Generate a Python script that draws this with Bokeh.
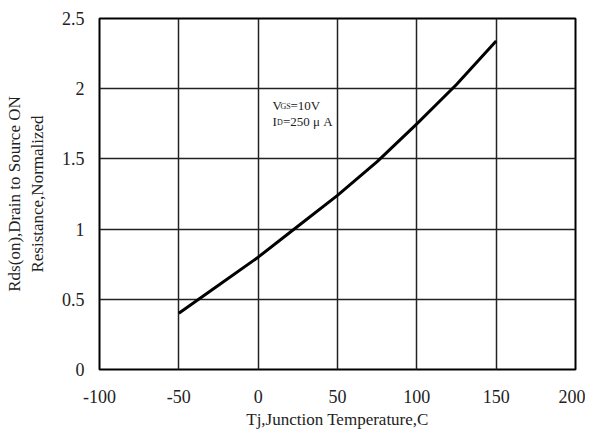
from bokeh.plotting import figure
from bokeh.models import FixedTicker, Label
from bokeh.embed import file_html
from bokeh.resources import INLINE

# Data
tj = [-50, -25, 0, 25, 50, 75, 100, 125, 150]
rds = [0.40, 0.60, 0.80, 1.02, 1.24, 1.48, 1.75, 2.03, 2.34]

x_ticks = [-100, -50, 0, 50, 100, 150, 200]
x_tick_labels = ["-100", "-50", "0", "50", "100", "150", "200"]
y_ticks = [0, 0.5, 1, 1.5, 2, 2.5]
y_tick_labels = ["0", "0.5", "1", "1.5", "2", "2.5"]

FONT = "Liberation Serif"

p = figure(width=585, height=435, x_range=(-100, 200), y_range=(0, 2.5),
           output_backend="svg", toolbar_location=None,
           min_border_left=99, min_border_right=10, min_border_top=18, min_border_bottom=66)

p.line(tj, rds, line_color="black", line_width=3, line_join="round")

p.outline_line_color = "black"
p.outline_line_width = 2

for ax in (p.xaxis[0], p.yaxis[0]):
    ax.axis_line_color = None
    ax.major_tick_line_color = None
    ax.minor_tick_line_color = None
    ax.major_label_text_font = FONT
    ax.major_label_text_font_size = "18px"
    ax.major_label_text_color = "#222222"
    ax.axis_label_text_font = FONT
    ax.axis_label_text_font_size = "17px"
    ax.axis_label_text_font_style = "normal"
    ax.axis_label_text_color = "#222222"

p.xaxis.ticker = FixedTicker(ticks=x_ticks)
p.yaxis.ticker = FixedTicker(ticks=y_ticks)
p.xaxis.major_label_overrides = dict(zip(x_ticks, x_tick_labels))
p.yaxis.major_label_overrides = dict(zip(y_ticks, y_tick_labels))
p.xaxis.major_label_standoff = 14
p.yaxis.major_label_standoff = 9
p.xaxis.axis_label = "Tj,Junction Temperature,C"
p.yaxis.axis_label = "Rds(on),Drain to Source ON\nResistance,Normalized"
p.xaxis.axis_label_standoff = 4
p.yaxis.axis_label_standoff = 12

p.xgrid.ticker = FixedTicker(ticks=x_ticks)
p.ygrid.ticker = FixedTicker(ticks=y_ticks)
for g in (p.xgrid[0], p.ygrid[0]):
    g.grid_line_color = "#222222"
    g.grid_line_width = 1.5

# annotation
px = 1 / 1.587
py = 1 / 140.4
x0 = 9.0
y1 = 1.88
y2 = 1.88 - 16 * py
ann = [
    ("V", x0, y1, "13px"),
    ("GS", x0 + 8 * px, y1 - 1 * py, "8px"),
    ("=10V", x0 + 18 * px, y1, "13px"),
    ("I", x0, y2, "13px"),
    ("D", x0 + 4.5 * px, y2 - 1 * py, "8px"),
    ("=250 μ A", x0 + 10.5 * px, y2, "13px"),
]
for t, x, y, fs in ann:
    p.add_layout(Label(x=x, y=y, text=t, text_font=FONT, text_font_size=fs,
                       text_color="#222222", text_baseline="alphabetic", text_align="left"))

open("out.html", "w").write(file_html(p, INLINE))
